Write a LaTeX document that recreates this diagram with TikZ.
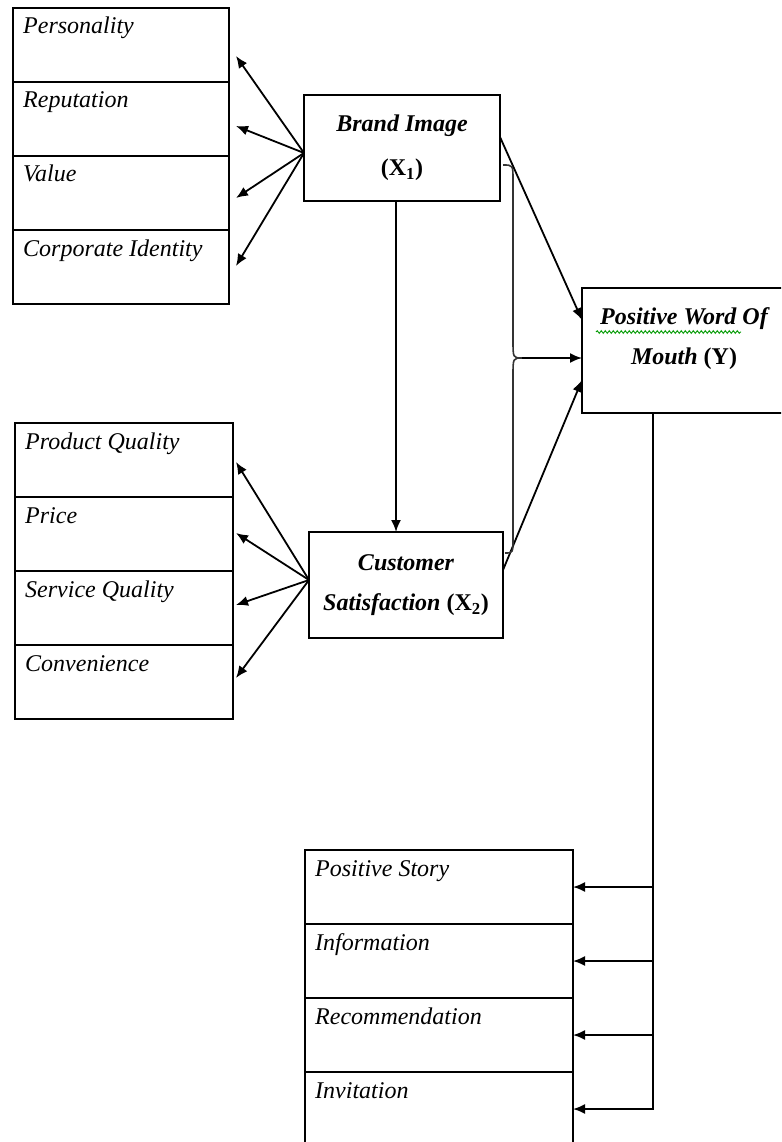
\documentclass[tikz,border=0pt]{standalone}
\usepackage{fontspec}
\setmainfont{Liberation Serif}
\usetikzlibrary{arrows.meta,positioning,decorations.pathmorphing}

\tikzset{
  cell/.style={draw, line width=2pt, outer sep=0pt, inner sep=0pt, minimum height=74pt},
  txt/.style={label={[anchor=base west, inner sep=0pt, xshift=10pt, yshift=-26pt,
      font=\fontsize{24}{28}\selectfont\itshape]north west:#1}},
  mainbox/.style={draw, line width=2pt, outer sep=0pt, align=center,
      font=\fontsize{24}{40}\selectfont\bfseries\itshape},
  arr/.style={line width=1.8pt, -{Latex[length=12pt,width=10pt]}},
}

\begin{document}
\begin{tikzpicture}[x=1pt, y=-1pt]
  \useasboundingbox (0,0) rectangle (781,1142);
  \clip (0,0) rectangle (781,1142);

  % Brand image indicators
  \node[cell, minimum width=216pt, anchor=north west, txt=Personality] (per) at (13,8) {};
  \node[cell, minimum width=216pt, below=0pt of per, txt=Reputation] (rep) {};
  \node[cell, minimum width=216pt, below=0pt of rep, txt=Value] (val) {};
  \node[cell, minimum width=216pt, below=0pt of val, txt=Corporate Identity] (cor) {};

  % Customer satisfaction indicators
  \node[cell, minimum width=218pt, anchor=north west, txt=Product Quality] (pq) at (15,423) {};
  \node[cell, minimum width=218pt, below=0pt of pq, txt=Price] (pri) {};
  \node[cell, minimum width=218pt, below=0pt of pri, txt=Service Quality] (sq) {};
  \node[cell, minimum width=218pt, below=0pt of sq, txt=Convenience] (con) {};

  % Word of mouth indicators
  \node[cell, minimum width=268pt, anchor=north west, txt=Positive Story] (ps) at (305,850) {};
  \node[cell, minimum width=268pt, below=0pt of ps, txt=Information] (inf) {};
  \node[cell, minimum width=268pt, below=0pt of inf, txt=Recommendation] (rec) {};
  \node[cell, minimum width=268pt, below=0pt of rec, txt=Invitation] (inv) {};

  % Variables
  \node[mainbox, minimum width=196pt, minimum height=106pt] (BI) at (402,148)
    {Brand Image\\[4pt]{\upshape(X\textsubscript{1})}};
  \node[mainbox, minimum width=194pt, minimum height=106pt] (CS) at (406,585)
    {Customer\\Satisfaction {\upshape(X\textsubscript{2})}};
  \node[mainbox, minimum width=204pt, minimum height=125pt,
    label={[anchor=north, yshift=-20pt, inner sep=0pt, align=center,
      font=\fontsize{24}{40}\selectfont\bfseries\itshape]north:Positive Word Of\\Mouth {\upshape(Y)}}] (PW) at (684,350) {};
  \draw[green!60!black, line width=0.9pt, decorate,
    decoration={snake, amplitude=1.3pt, segment length=4pt}] (596,332) -- (741,332);

  % Indicator arrows
  \foreach \c/\s in {per/-11, rep/-7, val/-5, cor/1}
    \draw[arr] ([yshift=-5pt]BI.west) -- ([xshift=7pt,yshift=\s pt]\c.east);
  \foreach \c/\s in {pq/-2, pri/1, sq/3, con/4}
    \draw[arr] ([yshift=5pt]CS.west) -- ([xshift=3pt,yshift=\s pt]\c.east);

  % Paths
  \draw[arr] ([xshift=-6pt]BI.south) -- ([xshift=-6pt]BI.south |- CS.north);
  \draw[arr] ([yshift=11pt]BI.east) -- ([yshift=30pt]PW.west);
  \draw[arr] ([yshift=15pt]CS.east) -- ([yshift=-30pt]PW.west);

  % Brace
  \coordinate (tip) at (522,358);
  \draw[line width=1.6pt, black!80] (503,165) .. controls (513,165) .. (513,180) -- (513,340)
    .. controls (513,358) .. (tip) .. controls (513,358) .. (513,376) -- (513,538)
    .. controls (513,553) .. (505,553);
  \draw[arr] (tip) -- (tip -| PW.west);

  % Word of mouth trunk
  \coordinate (trunk) at ([xshift=-31pt]PW.south);
  \draw[arr] (trunk) |- (inv.east);
  \foreach \c in {ps, inf, rec}
    \draw[arr] (trunk |- \c.east) -- (\c.east);
\end{tikzpicture}
\end{document}
